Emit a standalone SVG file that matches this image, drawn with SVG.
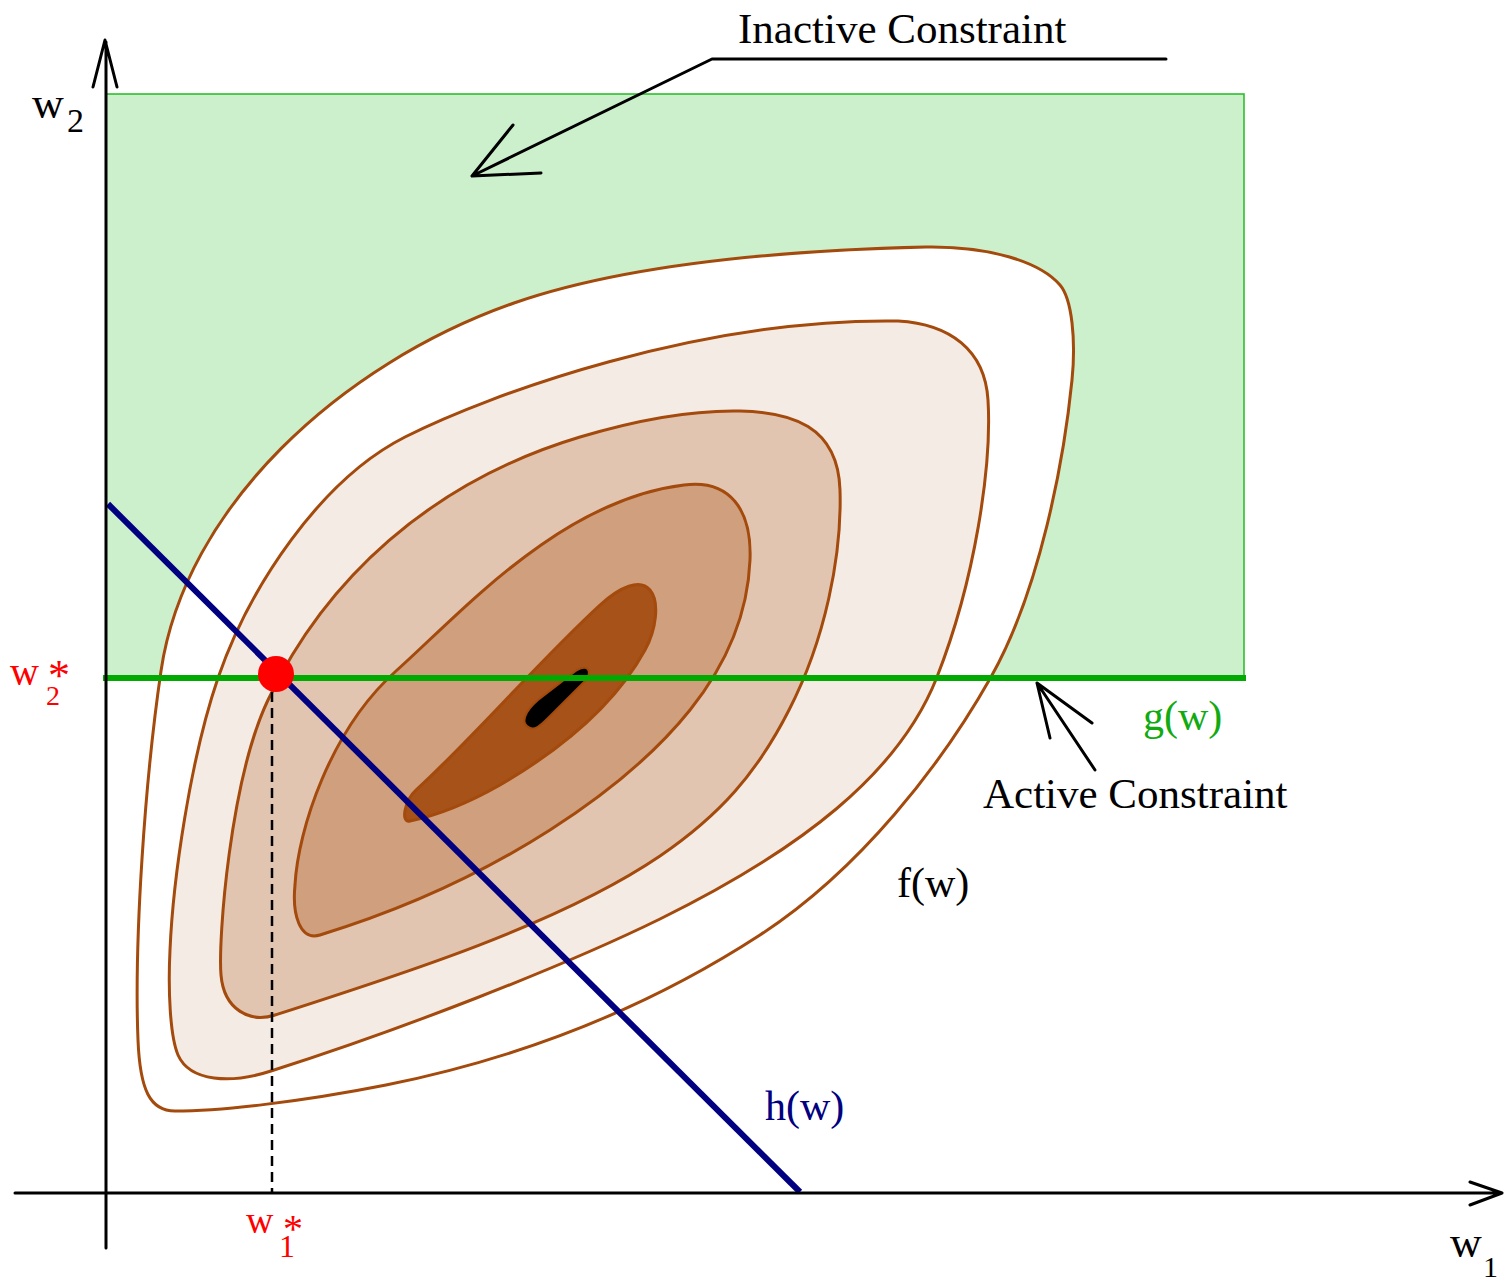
<svg xmlns="http://www.w3.org/2000/svg" width="1505" height="1281" viewBox="0 0 1505 1281">
<style>
.t{font-family:"Liberation Serif","Times New Roman",serif;fill:#000}
.r{fill:#ff0000}
.ct{stroke:#a34a0c;stroke-width:3;stroke-linejoin:round}
.ax{stroke:#000;stroke-width:3;fill:none;stroke-linecap:round;stroke-linejoin:round}
</style>
<rect width="1505" height="1281" fill="#fff"/>
<g id="region">
<rect x="106" y="94" width="1138" height="584" fill="#ccefcc" stroke="#22bb22" stroke-width="1.5"/>
</g>
<g id="contours">
<path id="c1" class="ct" fill="#fff" d="M 386,1085 C 300,1102 220,1111 175,1111 C 150,1111 140,1090 138,1040 C 134,940 145,780 161,671 C 185,507 340,364 514,303 C 635,261 800,250 926,247 C 990,246 1040,262 1060,285 C 1072,299 1076,340 1072,380 C 1064,460 1040,590 991,677 C 942,764 860,870 760,935 C 680,987 560,1050 386,1085 Z"/>
<path id="c2" class="ct" fill="#f4ebe4" d="M 271,1071 C 231,1084 190,1082 178,1055 C 170,1036 168,990 170,950 C 173,880 190,760 218,678 C 249,588 320,480 405,437 C 490,394 700,318 898,321 C 950,324 985,350 988,400 C 992,466 975,580 937,677 C 899,774 800,850 660,919 C 560,968 400,1030 271,1071 Z"/>
<path id="c3" class="ct" fill="#e2c5b1" d="M 275,1015 C 250,1023 224,1010 221,975 C 218,940 230,780 268,700 C 325,580 430,482 580,437 C 640,419 690,410 740,411 C 790,412 838,425 840,490 C 842,556 825,640 789,710 C 757,773 720,815 660,856 C 560,924 400,975 275,1015 Z"/>
<path id="c4" class="ct" fill="#d09f7d" d="M 320,935 C 300,941 292,915 295,885 C 298,830 330,730 396,671 C 460,614 560,500 684,485 C 730,479 752,510 750,560 C 748,610 730,660 690,710 C 630,785 500,880 320,935 Z"/>
<path id="c5" class="ct" fill="#a65219" d="M 410,821 C 400,823 405,800 416,790 C 470,741 540,660 600,605 C 620,587 640,578 650,590 C 660,602 656,630 645,650 C 615,705 560,750 500,785 C 470,802 440,815 410,821 Z"/>
<path id="core" fill="#000" stroke="#a34a0c" stroke-width="2" d="M 530,728 C 520,724 524,712 538,700 L 577,670 C 588,664 592,671 586,680 L 548,718 C 540,726 535,730 530,728 Z"/>
</g>
<g id="connectors">
<line id="g" x1="103" y1="678" x2="1246" y2="678" stroke="#00aa00" stroke-width="6"/>
<line id="h" x1="108" y1="504" x2="800" y2="1192" stroke="#000080" stroke-width="6"/>
<line id="drop" x1="272" y1="692" x2="272" y2="1193" stroke="#000" stroke-width="2.5" stroke-dasharray="10,6"/>
<path id="yaxis" class="ax" d="M 106,1248 L 106,42 M 93,87 L 105,40 L 117,87"/>
<path id="xaxis" class="ax" d="M 15,1193 L 1502,1193 M 1470,1182 L 1502,1193 L 1470,1205"/>
<path id="inactive-arrow" class="ax" stroke-width="3.5" d="M 1166,59 L 712,59 L 472,176 M 513,125 L 472,176 L 541,173"/>
<path id="active-arrow" class="ax" stroke-width="3.5" d="M 1037,683 L 1095,770 M 1037,683 L 1050,738 M 1037,683 L 1092,723"/>
</g>
<g id="optimum">
<circle cx="276" cy="674" r="18" fill="#ff0000"/>
</g>
<g id="labels">
<text class="t" x="738" y="43" font-size="43">Inactive Constraint</text>
<text class="t" x="983" y="808" font-size="43">Active Constraint</text>
<text class="t" x="1143" y="730" font-size="42" style="fill:#11aa11">g(w)</text>
<text class="t" x="897" y="897" font-size="42">f(w)</text>
<text class="t" x="765" y="1120" font-size="42" style="fill:#000080">h(w)</text>
<text class="t" x="32" y="118" font-size="44">w</text>
<text class="t" x="67" y="132" font-size="34">2</text>
<text class="t" x="1450" y="1257" font-size="44">w</text>
<text class="t" x="1483" y="1277" font-size="30">1</text>
<text class="t r" x="10" y="685" font-size="40">w</text>
<text class="t r" x="48" y="690" font-size="44">*</text>
<text class="t r" x="46" y="705" font-size="28">2</text>
<text class="t r" x="246" y="1233" font-size="38">w</text>
<text class="t r" x="283" y="1242" font-size="40">*</text>
<text class="t r" x="279" y="1257" font-size="32">1</text>
</g>
</svg>
